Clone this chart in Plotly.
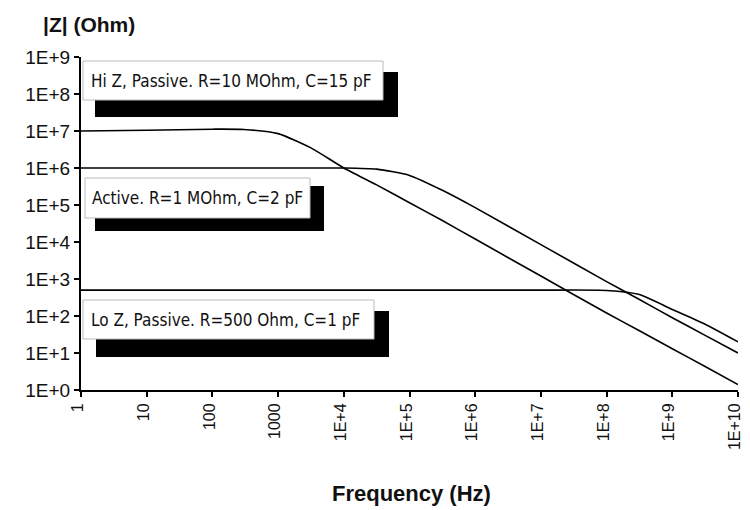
import plotly.graph_objects as go

# Frequency points (Hz)
freq = [1, 10, 100, 300, 1000, 3162, 1e4, 3.16e4, 1e5, 3.16e5, 1e6, 1e7, 1e8, 3.16e8, 1e9, 3.16e9, 1e10]

# |Z| (Ohm) estimates
hi_z = [1.0e7, 1.05e7, 1.12e7, 1.1e7, 8.5e6, 3.5e6, 1.0e6, 3.5e5, 1.15e5, 3.8e4, 1.2e4, 1.2e3, 120, 40, 13, 4.3, 1.4]
active = [1.0e6, 1.0e6, 1.0e6, 1.0e6, 1.0e6, 1.0e6, 1.0e6, 9.3e5, 6.3e5, 2.5e5, 8.5e4, 8.5e3, 850, 280, 90, 30, 10]
lo_z = [500, 500, 500, 500, 500, 500, 500, 500, 500, 500, 500, 500, 490, 380, 150, 60, 20]

x_tickvals = [1, 10, 100, 1000, 1e4, 1e5, 1e6, 1e7, 1e8, 1e9, 1e10]
x_ticktext = ["1", "10", "100", "1000", "1E+4", "1E+5", "1E+6", "1E+7", "1E+8", "1E+9", "1E+10"]
y_tickvals = [1, 10, 100, 1e3, 1e4, 1e5, 1e6, 1e7, 1e8, 1e9]
y_ticktext = ["1E+0", "1E+1", "1E+2", "1E+3", "1E+4", "1E+5", "1E+6", "1E+7", "1E+8", "1E+9"]

labels = ["Hi Z, Passive. R=10 MOhm, C=15 pF",
          "Active. R=1 MOhm, C=2 pF",
          "Lo Z, Passive. R=500 Ohm, C=1 pF"]

OFF = 8  # page body margin offset
W, H = 742, 502
L, R, T, B = 81, 738, 57, 390  # plot area in screen pixels

def px(x):
    return (x - L) / (R - L)

def py(y):
    return (B - y) / (B - T)

fig = go.Figure()
for ys in (hi_z, active, lo_z):
    fig.add_trace(go.Scatter(x=freq, y=ys, mode="lines", line=dict(color="black", width=1.6,
                                                                    shape="spline", smoothing=0.6),
                             showlegend=False, hoverinfo="skip"))

# label boxes: (box x0,x1,y0,y1), (shadow x0,x1,y0,y1), text x, text y  (screen pixels)
boxes = [
    ((83, 383, 61, 100), (95, 398, 72, 117), 89, 81),
    ((85, 310, 178, 218), (95, 324, 186, 231), 90, 198),
    ((83, 374, 300, 339), (96, 389, 311, 357), 89, 320),
]
label_font = dict(family="DejaVu Sans Condensed, Liberation Sans Narrow, Liberation Sans",
                  size=17, color="#111111")
shapes = []
annotations = []
for (b, s, tx, ty), lab in zip(boxes, labels):
    shapes.append(dict(type="rect", xref="paper", yref="paper",
                       x0=px(s[0]), x1=px(s[1]), y0=py(s[3]), y1=py(s[2]),
                       fillcolor="black", line=dict(width=0), layer="above"))
    shapes.append(dict(type="rect", xref="paper", yref="paper",
                       x0=px(b[0]), x1=px(b[1]), y0=py(b[3]), y1=py(b[2]),
                       fillcolor="white", line=dict(color="#bbbbbb", width=1), layer="above"))
    annotations.append(dict(text=lab, xref="paper", yref="paper", x=px(tx), y=py(ty),
                            xanchor="left", yanchor="middle", showarrow=False, font=label_font))

annotations.append(dict(text="<b>|Z| (Ohm)</b>", xref="paper", yref="paper",
                        x=px(41), y=py(25), xanchor="left", yanchor="middle", showarrow=False,
                        font=dict(family="Liberation Sans, Arial", size=21, color="#111111")))
annotations.append(dict(text="<b>Frequency (Hz)</b>", xref="paper", yref="paper",
                        x=px(411), y=py(493), xanchor="center", yanchor="middle", showarrow=False,
                        font=dict(family="Liberation Sans, Arial", size=22, color="#111111")))

fig.update_layout(
    width=W, height=H,
    margin=dict(l=L - OFF, r=W - (R - OFF), t=T - OFF, b=H - (B - OFF), autoexpand=False),
    paper_bgcolor="white", plot_bgcolor="white",
    shapes=shapes, annotations=annotations,
    font=dict(family="Liberation Sans, Arial", color="#111111"),
    xaxis=dict(type="log", range=[0, 10], tickvals=x_tickvals, ticktext=x_ticktext,
               tickangle=-90, ticks="outside", ticklen=5, tickcolor="black", tickwidth=1.5,
               ticklabelshift=-3,
               showline=True, linecolor="black", linewidth=2, showgrid=False, zeroline=False,
               tickfont=dict(size=16, family="Liberation Sans, Arial")),
    yaxis=dict(type="log", range=[0, 9], tickvals=y_tickvals, ticktext=y_ticktext,
               ticks="outside", ticklen=5, tickcolor="black", tickwidth=1.5,
               showline=True, linecolor="black", linewidth=2, showgrid=False, zeroline=False,
               tickfont=dict(size=19, family="Liberation Sans, Arial")),
)

fig.write_html("out.html")
